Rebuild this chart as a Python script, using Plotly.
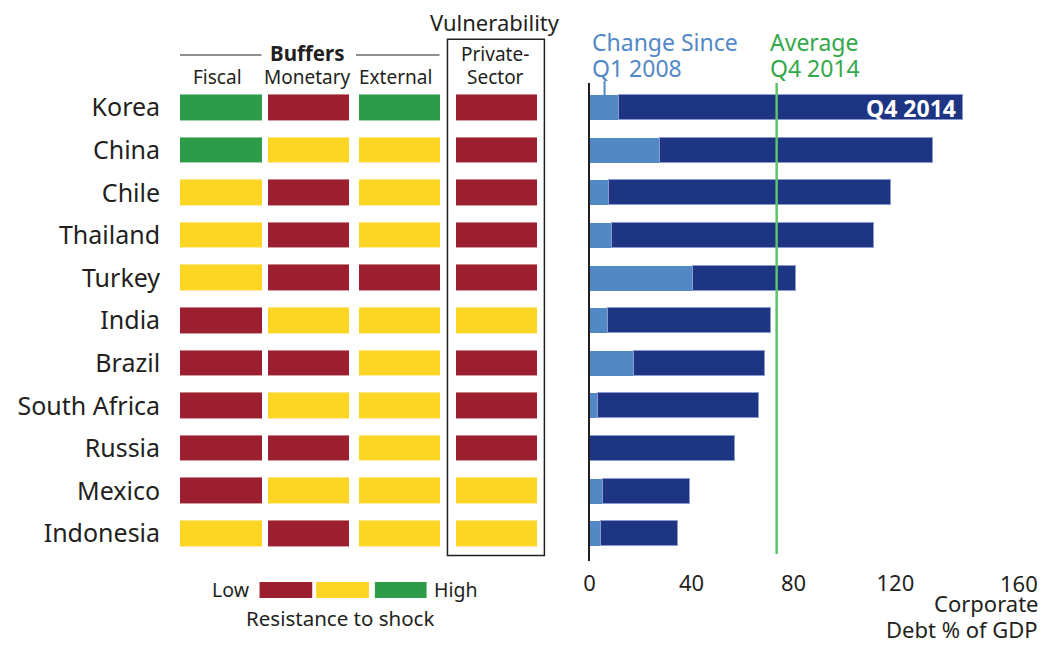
import plotly.graph_objects as go

W, H = 1049, 646

# ---------------- data ----------------
countries = ["Korea", "China", "Chile", "Thailand", "Turkey", "India", "Brazil",
             "South Africa", "Russia", "Mexico", "Indonesia"]
# Resistance to shock: L = low, M = medium, H = high
fiscal    = ["H", "H", "M", "M", "M", "L", "L", "L", "L", "L", "M"]
monetary  = ["L", "M", "L", "L", "L", "M", "L", "M", "L", "M", "L"]
external  = ["H", "M", "M", "M", "L", "M", "M", "M", "M", "M", "M"]
private   = ["L", "L", "L", "L", "L", "M", "L", "L", "L", "M", "M"]
column_labels = ["Fiscal", "Monetary", "External"]

debt_q4_2014 = [146.5, 134.8, 118.0, 111.3, 81.0, 71.2, 68.7, 66.5, 57.0, 39.2, 34.4]
change_since_q1_2008 = [11.2, 27.3, 7.3, 8.7, 40.5, 7.2, 17.4, 3.2, 0.0, 5.1, 4.3]
average_q4_2014 = 73.4
x_ticks = [0, 40, 80, 120]
x_last_tick = "160"

# ---------------- style ----------------
RED, YEL, GRN = "#9B1F2E", "#FDD525", "#2E9B48"
DARK_BLUE, LIGHT_BLUE = "#1D3583", "#5288C6"
AVG_GREEN, AVG_TEXT = "#5DC46A", "#33A84A"
TXT = "#231F20"
FONT = "Noto Sans"

def px(x):
    return x / W

def py(y):
    return 1 - y / H

level = {"L": 0, "M": 1, "H": 2}
# cell edges (in grid-axis pixel units); odd cells are blank gaps
edges = [175, 257, 263.5, 345, 355, 436, 453, 534]
z = []
for f, m, e, p in zip(fiscal, monetary, external, private):
    z.append([level[f], None, level[m], None, level[e], None, level[p]])

colorscale = [[0, RED], [0.333, RED], [0.333, YEL], [0.667, YEL], [0.667, GRN], [1, GRN]]

fig = go.Figure()
fig.add_trace(go.Heatmap(
    z=z, x=edges, y=countries, xaxis="x2", yaxis="y2",
    colorscale=colorscale, zmin=0, zmax=2, showscale=False,
    ygap=17, xgap=0, hoverinfo="skip"))

dark_part = [t - c for t, c in zip(debt_q4_2014, change_since_q1_2008)]
fig.add_trace(go.Bar(
    y=countries, x=change_since_q1_2008, orientation="h", width=0.59,
    marker=dict(color=LIGHT_BLUE, line=dict(width=0)), showlegend=False,
    hoverinfo="skip"))
fig.add_trace(go.Bar(
    y=countries, x=dark_part, orientation="h", width=0.59,
    marker=dict(color=DARK_BLUE, line=dict(width=1, color="#8C9BCB")), showlegend=False,
    hoverinfo="skip"))

ydom = [py(561), py(83)]
yrange = [10.64, -0.58]

fig.update_layout(
    width=W, height=H, margin=dict(l=0, r=0, t=0, b=0),
    paper_bgcolor="white", plot_bgcolor="rgba(0,0,0,0)",
    barmode="stack", bargap=0, showlegend=False,
    font=dict(family=FONT, color=TXT),
    xaxis=dict(domain=[px(587), px(1038)], range=[0, 176], anchor="y",
               tickvals=x_ticks, ticks="", showgrid=False, zeroline=False,
               showline=False, ticklabelstandoff=7,
               tickfont=dict(size=22, color=TXT, family=FONT)),
    yaxis=dict(domain=ydom, range=yrange, anchor="x", type="category",
               categoryorder="array", categoryarray=countries,
               showticklabels=False, ticks="", showgrid=False, zeroline=False,
               showline=True, linecolor=TXT, linewidth=2),
    xaxis2=dict(domain=[0, px(560)], range=[0, 560], anchor="y2", visible=False),
    yaxis2=dict(domain=ydom, range=yrange, anchor="free", position=px(155),
                type="category", categoryorder="array", categoryarray=countries,
                ticks="", showgrid=False, zeroline=False, showline=False,
                tickfont=dict(size=25, color=TXT, family=FONT)),
)

shapes = []
# private-sector box
shapes.append(dict(type="rect", xref="paper", yref="paper",
                   x0=px(444), x1=px(541.5), y0=py(555.5), y1=py(39.3),
                   line=dict(color=TXT, width=1.5)))
# Buffers rule lines
for x0, x1 in [(175, 257), (352, 436)]:
    shapes.append(dict(type="line", xref="paper", yref="paper",
                       x0=px(x0), x1=px(x1), y0=py(55), y1=py(55),
                       line=dict(color=TXT, width=1.2)))
# average line
shapes.append(dict(type="line", xref="x", yref="paper",
                   x0=average_q4_2014, x1=average_q4_2014, y0=py(554), y1=py(83),
                   line=dict(color=AVG_GREEN, width=2.5)))
# pointer from "Change Since" label
shapes.append(dict(type="line", xref="paper", yref="paper",
                   x0=px(602), x1=px(602), y0=py(95), y1=py(81),
                   line=dict(color=LIGHT_BLUE, width=2)))
# legend swatches
for (x0, x1), c in zip([(255, 308), (312, 365), (371, 423)], [RED, YEL, GRN]):
    shapes.append(dict(type="rect", xref="paper", yref="paper",
                       x0=px(x0), x1=px(x1), y0=py(598), y1=py(582),
                       line=dict(width=0), fillcolor=c))
fig.update_layout(shapes=shapes)

ann = []
def text(x, y, s, size, color=TXT, xanchor="center", bold=False):
    if bold:
        s = "<b>" + s + "</b>"
    ann.append(dict(x=px(x), y=py(y), xref="paper", yref="paper", text=s,
                    showarrow=False, xanchor=xanchor, yanchor="middle",
                    font=dict(size=size, color=color, family=FONT)))

text(492, 22, "Vulnerability", 22)
text(303, 53, "Buffers", 20.5, bold=True)
text(492, 54, "Private-", 19)
text(492, 77, "Sector", 19)
for cx, lab in zip([213, 303, 392], column_labels):
    text(cx, 77, lab, 19)

text(587, 42, "Change Since", 23, color=LIGHT_BLUE, xanchor="left")
text(587, 68, "Q1 2008", 23, color=LIGHT_BLUE, xanchor="left")
text(766, 42, "Average", 23, color=AVG_TEXT, xanchor="left")
text(766, 68, "Q4 2014", 23, color=AVG_TEXT, xanchor="left")

# label inside Korea bar
ann.append(dict(x=debt_q4_2014[0], y=countries[0], xref="x", yref="y",
                text="<b>Q4 2014</b>", showarrow=False, xanchor="right", xshift=-5,
                font=dict(size=23, color="white", family=FONT)))

text(1040, 583, x_last_tick, 22, xanchor="right")
text(1040, 603, "Corporate", 22, xanchor="right")
text(1040, 629, "Debt % of GDP", 22, xanchor="right")

text(247, 589, "Low", 19.5, xanchor="right")
text(428, 589, "High", 19.5, xanchor="left")
text(336, 618, "Resistance to shock", 20.5)

fig.update_layout(annotations=ann)
fig.write_html("out.html", config={"displayModeBar": False},
               post_script="document.body.style.margin='0';")
